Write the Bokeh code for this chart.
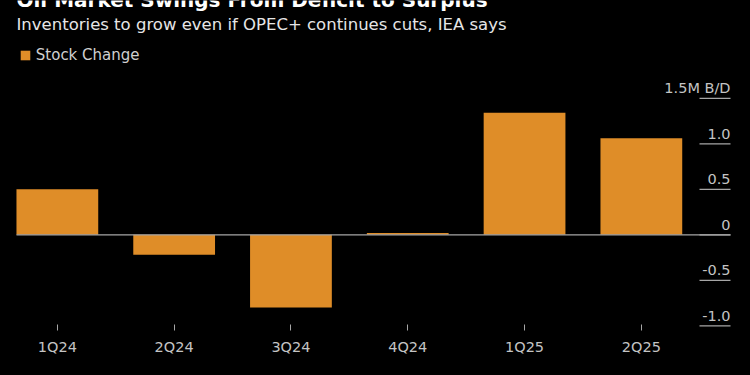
from bokeh.plotting import figure
from bokeh.models import ColumnDataSource, Range1d, FixedTicker, Label, Legend, LegendItem
from bokeh.core.properties import value
from bokeh.embed import file_html
from bokeh.resources import INLINE

# ---------------- data ----------------
title_text = "Oil Market Swings From Deficit to Surplus"
subtitle_text = "Inventories to grow even if OPEC+ continues cuts, IEA says"
series_name = "Stock Change"
quarters = ["1Q24", "2Q24", "3Q24", "4Q24", "1Q25", "2Q25"]
stock_change = [0.50, -0.22, -0.80, 0.02, 1.34, 1.06]
y_ticks = [1.5, 1.0, 0.5, 0.0, -0.5, -1.0]
y_tick_labels = ["1.5M B/D", "1.0", "0.5", "0", "-0.5", "-1.0"]

# ---------------- layout constants ----------------
W, H = 750, 375
FRAME_H = 327
PITCH = 116.8          # px per category
FIRST_CX = 56.85       # px of first category centre
UNIT = 91.0            # px per 1M b/d
ZERO_PY = 234.3        # px of zero line from top

def px_to_x(px):
    return (px - FIRST_CX) / PITCH

BG = "#000000"
ORANGE = "#df8d28"
AXIS_TEXT = "#c4c4c4"
RULE = "#a6a6a6"
FONT = "DejaVu Sans"

p = figure(width=W, height=H, output_backend="svg", toolbar_location=None,
           x_range=Range1d(px_to_x(0), px_to_x(W)),
           y_range=Range1d(-(FRAME_H - ZERO_PY) / UNIT, ZERO_PY / UNIT),
           y_axis_location=None,
           min_border_left=0, min_border_right=0, min_border_top=0,
           min_border_bottom=H - FRAME_H,
           background_fill_color=BG, border_fill_color=BG,
           outline_line_color=None,
           styles={"position": "absolute", "top": "0px", "left": "0px",
                   "background-color": BG})
p.xgrid.visible = False
p.ygrid.visible = False

src = ColumnDataSource(dict(x=list(range(len(quarters))), q=quarters, v=stock_change))
bars = p.vbar(x="x", top="v", bottom=0, width=0.7, source=src,
              fill_color=ORANGE, line_color=None)

# zero line
p.segment(x0=[px_to_x(16)], y0=[0], x1=[px_to_x(730)], y1=[0],
          line_color=RULE, line_width=1.3)

# right-side value labels with underline rules
n = len(y_ticks)
p.segment(x0=[px_to_x(699)] * n, x1=[px_to_x(730)] * n, y0=y_ticks, y1=y_ticks,
          line_color=RULE, line_width=1.3)
p.text(x=[px_to_x(730)] * n, y=y_ticks, text=y_tick_labels,
       text_align="right", text_baseline="alphabetic", y_offset=-10,
       text_font=value(FONT), text_font_size="14.5px", text_color=AXIS_TEXT)

# x axis
p.xaxis.ticker = FixedTicker(ticks=list(range(len(quarters))))
p.xaxis.major_label_overrides = {i: q for i, q in enumerate(quarters)}
p.xaxis.axis_line_color = None
p.xaxis.major_tick_in = 3
p.xaxis.major_tick_out = 3
p.xaxis.major_tick_line_color = RULE
p.xaxis.minor_tick_line_color = None
p.xaxis.major_label_standoff = 8
p.xaxis.major_label_text_font = FONT
p.xaxis.major_label_text_font_size = "14.5px"
p.xaxis.major_label_text_color = AXIS_TEXT

# title & subtitle
p.add_layout(Label(x=16, y=FRAME_H + 0.5, x_units="screen", y_units="screen",
                   text=title_text, text_font=FONT, text_font_style="bold",
                   text_font_size="20px", text_color="#ffffff",
                   text_baseline="alphabetic"))
p.add_layout(Label(x=16, y=FRAME_H - 24, x_units="screen", y_units="screen",
                   text=subtitle_text, text_font=FONT,
                   text_font_size="16.5px", text_color="#e6e6e6",
                   text_baseline="alphabetic"))

# legend
legend = Legend(items=[LegendItem(label=series_name, renderers=[bars])],
                location=(18.8, FRAME_H - 64), orientation="horizontal",
                glyph_width=12, glyph_height=12, label_height=12,
                label_standoff=5, padding=0, margin=0, spacing=0,
                border_line_color=None, background_fill_alpha=0,
                label_text_font=FONT, label_text_font_size="15px",
                label_text_color="#d0d0d0", label_text_baseline="middle")
p.add_layout(legend)

html = file_html(p, INLINE, title_text)
html = html.replace("</head>", "<style>html, body { background: #000000; }</style>\n</head>", 1)
open("out.html", "w").write(html)
